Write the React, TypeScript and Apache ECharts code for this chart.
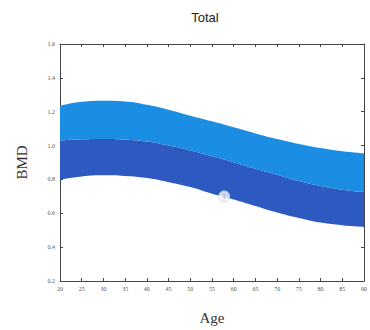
import React, { useEffect, useRef } from "react";
import * as echarts from "echarts";

const ages = ["20", "25", "30", "35", "40", "45", "50", "55", "60", "65", "70", "75", "80", "85", "90"];
const upper = [1.235, 1.259, 1.265, 1.261, 1.241, 1.212, 1.176, 1.143, 1.108, 1.072, 1.039, 1.01, 0.986, 0.967, 0.955];
const middle = [1.029, 1.037, 1.039, 1.035, 1.024, 1.0, 0.971, 0.937, 0.902, 0.863, 0.828, 0.79, 0.761, 0.739, 0.725];
const lower = [0.798, 0.818, 0.824, 0.82, 0.808, 0.784, 0.755, 0.716, 0.682, 0.643, 0.604, 0.572, 0.545, 0.529, 0.519];
const markerPoint = { age: 57.8, value: 0.7, label: "1" };

export default function App() {
  const ref = useRef<HTMLDivElement>(null);
  useEffect(() => {
    const chart = echarts.init(ref.current!, null, { renderer: "svg" });
    const darkBand = middle.map((m, i) => +(m - lower[i]).toFixed(3));
    const lightBand = upper.map((u, i) => +(u - middle[i]).toFixed(3));
    const axisLine = { show: true, lineStyle: { color: "#444", width: 1 } };
    const tickStyle = { show: true, inside: true, length: 3, lineStyle: { color: "#444" } };
    chart.setOption({
      animation: false,
      backgroundColor: "#fff",
      title: {
        text: "Total",
        left: 200,
        top: 6,
        textAlign: "center",
        textStyle: { fontFamily: "Liberation Sans, Arial, sans-serif", fontSize: 13, fontWeight: "normal", color: "#222" },
      },
      grid: { left: 60, right: 3, top: 44, bottom: 49 },
      xAxis: [
        {
          type: "category",
          data: ages,
          boundaryGap: false,
          name: "Age",
          nameLocation: "middle",
          nameGap: 29,
          nameTextStyle: { fontFamily: "Liberation Serif, Times New Roman, serif", fontSize: 15, color: "#333" },
          axisLine,
          axisTick: { ...tickStyle, interval: 0 },
          axisLabel: { fontSize: 6, color: "#555", margin: 5, interval: 0, fontFamily: "Liberation Serif, serif" },
          splitLine: { show: false },
        },
        {
          type: "category",
          data: ages,
          boundaryGap: false,
          position: "top",
          axisLine,
          axisTick: { ...tickStyle, interval: 0 },
          axisLabel: { show: false },
          splitLine: { show: false },
        },
        {
          type: "value",
          min: 20,
          max: 90,
          show: false,
        },
      ],
      yAxis: [
        {
          type: "value",
          min: 0.2,
          max: 1.6,
          interval: 0.2,
          name: "BMD",
          nameLocation: "middle",
          nameGap: 31,
          nameTextStyle: { fontFamily: "Liberation Serif, Times New Roman, serif", fontSize: 15, color: "#333" },
          axisLine,
          axisTick: tickStyle,
          axisLabel: { fontSize: 6, color: "#555", margin: 5, formatter: (v: number) => v.toFixed(1), fontFamily: "Liberation Serif, serif" },
          splitLine: { show: false },
        },
        {
          type: "value",
          min: 0.2,
          max: 1.6,
          interval: 0.2,
          position: "right",
          axisLine,
          axisTick: tickStyle,
          axisLabel: { show: false },
          splitLine: { show: false },
        },
      ],
      series: [
        {
          type: "line",
          stack: "band",
          data: lower,
          smooth: true,
          symbol: "none",
          lineStyle: { width: 0 },
          areaStyle: { opacity: 0 },
        },
        {
          type: "line",
          stack: "band",
          data: darkBand,
          smooth: true,
          symbol: "none",
          lineStyle: { width: 0 },
          areaStyle: { color: "#2e59c0", opacity: 1 },
        },
        {
          type: "line",
          stack: "band",
          data: lightBand,
          smooth: true,
          symbol: "none",
          lineStyle: { width: 0 },
          areaStyle: { color: "#1b8de2", opacity: 1 },
        },
        {
          type: "scatter",
          xAxisIndex: 2,
          data: [[markerPoint.age, markerPoint.value]],
          symbolSize: 11,
          itemStyle: { color: "#f6f7fb", borderColor: "#c4cbdc", borderWidth: 1 },
          label: { show: true, position: "inside", formatter: markerPoint.label, fontSize: 7, color: "#999" },
          z: 5,
        },
      ],
    });
    return () => chart.dispose();
  }, []);
  return <div ref={ref} style={{ width: 370, height: 330, position: "absolute", left: 0, top: 0 }} />;
}
